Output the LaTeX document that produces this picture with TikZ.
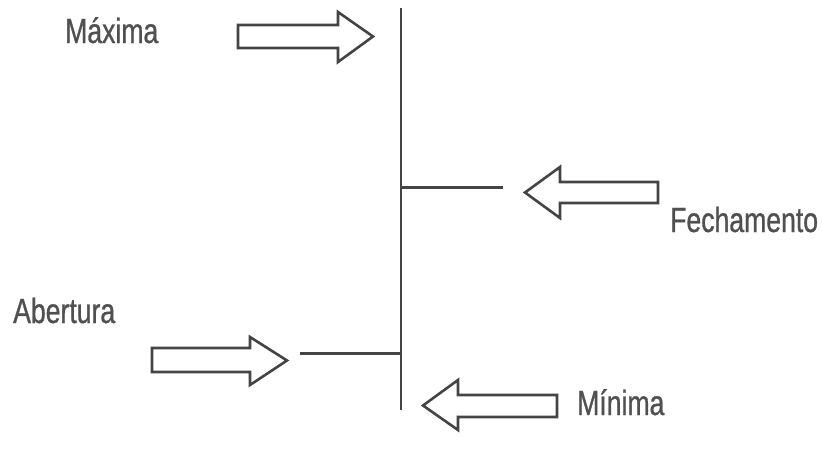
\documentclass[tikz,border=0pt]{standalone}
\usepackage{fontspec}
\setmainfont{Liberation Sans}[FakeStretch=0.76,FakeBold=0.8]
\begin{document}
\begin{tikzpicture}[x=1pt,y=-1pt,
  bar/.style={draw=linegray,line width=2.2pt},
  stub/.style={draw=linegray,line width=3pt},
  hollow/.style={draw=linegray,line width=2.6pt,fill=white,line join=miter},
  lbl/.style={anchor=base west,inner sep=0pt,text=textgray,font=\fontsize{35}{40}\selectfont}]
\definecolor{linegray}{HTML}{444444}
\definecolor{textgray}{HTML}{505050}
\useasboundingbox (0,0) rectangle (822,450);
\fill[white] (0,0) rectangle (822,450);
% main vertical line
\coordinate (vtop) at (401,8);
\coordinate (vbot) at (401,410);
\draw[bar] (vtop) -- (vbot);
% stubs
\coordinate (fv) at (401,187);
\coordinate (fe) at (503,187);
\draw[stub] (fv) -- (fe);
\coordinate (av) at (401,353);
\coordinate (ae) at (300,353);
\draw[stub] (ae) -- (av);
% hollow arrows
\draw[hollow] (238,25) -- (338,25) -- (338,12) -- (373,36.5) -- (338,62) -- (338,48) -- (238,48) -- cycle;
\draw[hollow] (658,182) -- (560,182) -- (560,167) -- (525,192.5) -- (560,218) -- (560,203) -- (658,203) -- cycle;
\draw[hollow] (152,348) -- (250,348) -- (250,337) -- (287,360.5) -- (250,385) -- (250,372) -- (152,372) -- cycle;
\draw[hollow] (557,395) -- (458,395) -- (458,380) -- (423,405.5) -- (458,430) -- (458,417) -- (557,417) -- cycle;
% labels
\node[lbl] (maxima) at (65,43) {Máxima};
\node[lbl] (fech) at (670,232) {Fechamento};
\node[lbl] (abert) at (13,323) {Abertura};
\node[lbl] (minima) at (577,415) {Mínima};
\end{tikzpicture}
\end{document}
